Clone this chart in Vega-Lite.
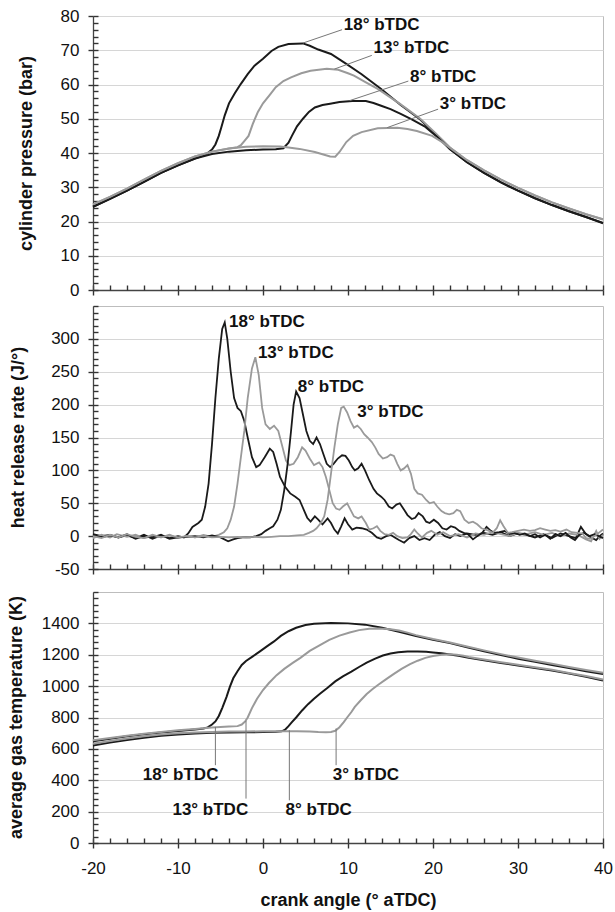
{
  "$schema": "https://vega.github.io/schema/vega-lite/v6.json",
  "padding": {"left": 6, "top": 6, "right": 5, "bottom": 0},
  "spacing": 5,
  "config": {
    "font": "Liberation Sans",
    "view": {"stroke": "#bdbdbd", "strokeWidth": 1},
    "axis": {"labelFont": "Liberation Sans", "titleFont": "Liberation Sans", "labelColor": "#111", "titleColor": "#111", "labelFontSize": 17, "titleFontSize": 18, "titleFontWeight": "bold", "ticks": true, "tickColor": "#333", "tickOpacity": 1, "domainColor": "#444", "gridColor": "#d6d6d6", "tickWidth": 1.4, "domainWidth": 1.3, "labelFlush": false, "labelOverlap": false, "labelExpr": "datum.value + ''"}
  },
  "datasets": {
    "p1": [
      {"s":"18","x":-20,"y":24.3},{"s":"18","x":-18,"y":26.6},{"s":"18","x":-16,"y":29.0},{"s":"18","x":-14,"y":31.6},{"s":"18","x":-12,"y":34.2},{"s":"18","x":-10,"y":36.4},{"s":"18","x":-8,"y":38.4},{"s":"18","x":-7,"y":39.3},{"s":"18","x":-6.5,"y":40.0},{"s":"18","x":-6,"y":41.0},{"s":"18","x":-5.6,"y":42.5},{"s":"18","x":-5.2,"y":45.0},{"s":"18","x":-4.9,"y":47.5},{"s":"18","x":-4.5,"y":51.0},{"s":"18","x":-4.0,"y":54.5},{"s":"18","x":-3.3,"y":57.5},{"s":"18","x":-2.6,"y":60.2},{"s":"18","x":-1.8,"y":63.0},{"s":"18","x":-1.0,"y":65.5},{"s":"18","x":0,"y":67.5},{"s":"18","x":1.0,"y":69.8},{"s":"18","x":1.8,"y":71.0},{"s":"18","x":3.0,"y":71.8},{"s":"18","x":4.7,"y":72.0},{"s":"18","x":5.5,"y":71.3},{"s":"18","x":6.5,"y":70.2},{"s":"18","x":8.0,"y":68.9},{"s":"18","x":9.8,"y":66.0},{"s":"18","x":11.6,"y":63.0},{"s":"18","x":13.9,"y":58.7},{"s":"18","x":16.2,"y":54.0},{"s":"18","x":18.5,"y":49.8},{"s":"18","x":20.3,"y":45.5},{"s":"18","x":22,"y":41.2},{"s":"18","x":24,"y":37.3},{"s":"18","x":26,"y":34.2},{"s":"18","x":28,"y":31.4},{"s":"18","x":30,"y":29.0},{"s":"18","x":32,"y":26.8},{"s":"18","x":34,"y":24.8},{"s":"18","x":36,"y":23.0},{"s":"18","x":38,"y":21.3},{"s":"18","x":40,"y":19.6},
      {"s":"13","x":-20,"y":25.0},{"s":"13","x":-18,"y":27.2},{"s":"13","x":-16,"y":29.6},{"s":"13","x":-14,"y":32.2},{"s":"13","x":-12,"y":34.8},{"s":"13","x":-10,"y":37.0},{"s":"13","x":-8,"y":39.0},{"s":"13","x":-6,"y":40.4},{"s":"13","x":-4,"y":41.3},{"s":"13","x":-3,"y":41.7},{"s":"13","x":-2.6,"y":42.3},{"s":"13","x":-2.2,"y":43.5},{"s":"13","x":-1.7,"y":45.0},{"s":"13","x":-1.2,"y":48.5},{"s":"13","x":-0.6,"y":52.0},{"s":"13","x":0,"y":54.5},{"s":"13","x":0.8,"y":57.0},{"s":"13","x":1.5,"y":59.2},{"s":"13","x":2.4,"y":61.0},{"s":"13","x":3.3,"y":62.1},{"s":"13","x":4.5,"y":63.3},{"s":"13","x":5.6,"y":64.0},{"s":"13","x":7.5,"y":64.6},{"s":"13","x":8.85,"y":64.3},{"s":"13","x":10.0,"y":63.3},{"s":"13","x":10.7,"y":62.6},{"s":"13","x":12.0,"y":60.8},{"s":"13","x":13.5,"y":58.7},{"s":"13","x":16.2,"y":54.2},{"s":"13","x":18.5,"y":50.0},{"s":"13","x":20.3,"y":45.8},{"s":"13","x":22,"y":41.6},{"s":"13","x":24,"y":37.9},{"s":"13","x":26,"y":34.9},{"s":"13","x":28,"y":32.2},{"s":"13","x":30,"y":29.8},{"s":"13","x":32,"y":27.6},{"s":"13","x":34,"y":25.6},{"s":"13","x":36,"y":23.8},{"s":"13","x":38,"y":22.1},{"s":"13","x":40,"y":20.6},
      {"s":"8","x":-20,"y":24.3},{"s":"8","x":-18,"y":26.6},{"s":"8","x":-16,"y":29.0},{"s":"8","x":-14,"y":31.6},{"s":"8","x":-12,"y":34.2},{"s":"8","x":-10,"y":36.4},{"s":"8","x":-8,"y":38.4},{"s":"8","x":-6,"y":39.7},{"s":"8","x":-4,"y":40.4},{"s":"8","x":-2,"y":40.8},{"s":"8","x":0,"y":41.0},{"s":"8","x":1.5,"y":41.1},{"s":"8","x":2.4,"y":41.4},{"s":"8","x":3.0,"y":43.0},{"s":"8","x":3.4,"y":45.0},{"s":"8","x":4.0,"y":47.8},{"s":"8","x":4.7,"y":50.0},{"s":"8","x":5.4,"y":52.0},{"s":"8","x":6.1,"y":53.3},{"s":"8","x":7.0,"y":54.0},{"s":"8","x":7.9,"y":54.4},{"s":"8","x":9.0,"y":54.9},{"s":"8","x":10.5,"y":55.2},{"s":"8","x":12.1,"y":55.2},{"s":"8","x":13.0,"y":54.6},{"s":"8","x":13.9,"y":53.8},{"s":"8","x":15.0,"y":52.8},{"s":"8","x":16.2,"y":51.4},{"s":"8","x":17.5,"y":49.8},{"s":"8","x":19.0,"y":47.8},{"s":"8","x":20.5,"y":44.7},{"s":"8","x":22,"y":41.1},{"s":"8","x":24,"y":37.3},{"s":"8","x":26,"y":34.2},{"s":"8","x":28,"y":31.4},{"s":"8","x":30,"y":29.0},{"s":"8","x":32,"y":26.8},{"s":"8","x":34,"y":24.8},{"s":"8","x":36,"y":23.0},{"s":"8","x":38,"y":21.3},{"s":"8","x":40,"y":19.5},
      {"s":"3","x":-20,"y":25.0},{"s":"3","x":-18,"y":27.2},{"s":"3","x":-16,"y":29.6},{"s":"3","x":-14,"y":32.2},{"s":"3","x":-12,"y":34.8},{"s":"3","x":-10,"y":37.0},{"s":"3","x":-8,"y":39.0},{"s":"3","x":-6,"y":40.4},{"s":"3","x":-4,"y":41.3},{"s":"3","x":-2,"y":41.8},{"s":"3","x":0,"y":42.0},{"s":"3","x":2,"y":41.9},{"s":"3","x":3,"y":41.6},{"s":"3","x":4.3,"y":41.2},{"s":"3","x":6.1,"y":40.3},{"s":"3","x":7.2,"y":39.5},{"s":"3","x":7.9,"y":39.0},{"s":"3","x":8.5,"y":38.9},{"s":"3","x":9.0,"y":40.3},{"s":"3","x":9.8,"y":43.2},{"s":"3","x":10.6,"y":45.0},{"s":"3","x":11.6,"y":46.1},{"s":"3","x":13.5,"y":47.2},{"s":"3","x":15.8,"y":47.4},{"s":"3","x":17.0,"y":47.0},{"s":"3","x":18.1,"y":46.4},{"s":"3","x":19.9,"y":45.0},{"s":"3","x":21.0,"y":43.3},{"s":"3","x":22,"y":41.5},{"s":"3","x":24,"y":37.9},{"s":"3","x":26,"y":34.9},{"s":"3","x":28,"y":32.2},{"s":"3","x":30,"y":29.8},{"s":"3","x":32,"y":27.6},{"s":"3","x":34,"y":25.6},{"s":"3","x":36,"y":23.8},{"s":"3","x":38,"y":22.1},{"s":"3","x":40,"y":20.7}
    ],
    "p2": [
      {"s":"18","x":-20,"y":3},{"s":"18","x":-19,"y":0},{"s":"18","x":-18,"y":2},{"s":"18","x":-17,"y":-2},{"s":"18","x":-16,"y":1},{"s":"18","x":-15,"y":-3},{"s":"18","x":-14,"y":2},{"s":"18","x":-13,"y":-4},{"s":"18","x":-12,"y":1},{"s":"18","x":-11,"y":-3},{"s":"18","x":-10,"y":0},{"s":"18","x":-9.3,"y":-2},{"s":"18","x":-8.8,"y":4},{"s":"18","x":-8.3,"y":14},{"s":"18","x":-7.6,"y":20},{"s":"18","x":-7.2,"y":25},{"s":"18","x":-6.8,"y":45},{"s":"18","x":-6.4,"y":80},{"s":"18","x":-6.0,"y":140},{"s":"18","x":-5.6,"y":210},{"s":"18","x":-5.2,"y":270},{"s":"18","x":-4.8,"y":315},{"s":"18","x":-4.5,"y":325},{"s":"18","x":-4.2,"y":300},{"s":"18","x":-3.8,"y":250},{"s":"18","x":-3.4,"y":210},{"s":"18","x":-3.0,"y":195},{"s":"18","x":-2.6,"y":190},{"s":"18","x":-2.2,"y":175},{"s":"18","x":-1.8,"y":150},{"s":"18","x":-1.3,"y":120},{"s":"18","x":-0.8,"y":105},{"s":"18","x":-0.4,"y":108},{"s":"18","x":0.2,"y":120},{"s":"18","x":0.8,"y":133},{"s":"18","x":1.2,"y":128},{"s":"18","x":1.6,"y":110},{"s":"18","x":2.0,"y":90},{"s":"18","x":2.6,"y":75},{"s":"18","x":3.2,"y":65},{"s":"18","x":3.8,"y":60},{"s":"18","x":4.3,"y":55},{"s":"18","x":4.8,"y":40},{"s":"18","x":5.2,"y":28},{"s":"18","x":5.6,"y":22},{"s":"18","x":6.1,"y":30},{"s":"18","x":6.5,"y":25},{"s":"18","x":7.0,"y":18},{"s":"18","x":7.6,"y":27},{"s":"18","x":8.0,"y":20},{"s":"18","x":8.4,"y":10},{"s":"18","x":8.8,"y":4},{"s":"18","x":9.2,"y":15},{"s":"18","x":9.6,"y":27},{"s":"18","x":10.0,"y":18},{"s":"18","x":10.5,"y":10},{"s":"18","x":11.0,"y":13},{"s":"18","x":11.6,"y":12},{"s":"18","x":12.2,"y":10},{"s":"18","x":12.8,"y":5},{"s":"18","x":13.4,"y":-2},{"s":"18","x":13.9,"y":-4},{"s":"18","x":14.5,"y":0},{"s":"18","x":15.0,"y":2},{"s":"18","x":15.5,"y":-2},{"s":"18","x":16.0,"y":-6},{"s":"18","x":16.6,"y":-10},{"s":"18","x":17.2,"y":-3},{"s":"18","x":17.8,"y":0},{"s":"18","x":18.4,"y":-6},{"s":"18","x":19.0,"y":-3},{"s":"18","x":19.6,"y":-6},{"s":"18","x":20.2,"y":2},{"s":"18","x":20.8,"y":6},{"s":"18","x":21.4,"y":0},{"s":"18","x":22.0,"y":-3},{"s":"18","x":22.6,"y":3},{"s":"18","x":23.2,"y":0},{"s":"18","x":24,"y":4},{"s":"18","x":25,"y":2},{"s":"18","x":26,"y":5},{"s":"18","x":27,"y":2},{"s":"18","x":28,"y":6},{"s":"18","x":29,"y":0},{"s":"18","x":30,"y":4},{"s":"18","x":31,"y":2},{"s":"18","x":32,"y":-2},{"s":"18","x":33,"y":3},{"s":"18","x":34,"y":-3},{"s":"18","x":35,"y":4},{"s":"18","x":36,"y":0},{"s":"18","x":36.8,"y":-3},{"s":"18","x":37.4,"y":14},{"s":"18","x":38,"y":3},{"s":"18","x":38.6,"y":-2},{"s":"18","x":39.2,"y":-6},{"s":"18","x":39.6,"y":0},{"s":"18","x":40,"y":4},
      {"s":"13","x":-20,"y":-3},{"s":"13","x":-19,"y":2},{"s":"13","x":-18,"y":-2},{"s":"13","x":-17.2,"y":3},{"s":"13","x":-16,"y":-1},{"s":"13","x":-15,"y":2},{"s":"13","x":-14,"y":-3},{"s":"13","x":-13,"y":0},{"s":"13","x":-12,"y":-2},{"s":"13","x":-11,"y":2},{"s":"13","x":-10,"y":-3},{"s":"13","x":-9,"y":0},{"s":"13","x":-8,"y":-2},{"s":"13","x":-7,"y":2},{"s":"13","x":-6,"y":-1},{"s":"13","x":-5.2,"y":2},{"s":"13","x":-4.6,"y":6},{"s":"13","x":-4.2,"y":12},{"s":"13","x":-3.8,"y":25},{"s":"13","x":-3.4,"y":45},{"s":"13","x":-3.0,"y":80},{"s":"13","x":-2.6,"y":120},{"s":"13","x":-2.2,"y":160},{"s":"13","x":-1.8,"y":210},{"s":"13","x":-1.3,"y":255},{"s":"13","x":-0.9,"y":272},{"s":"13","x":-0.5,"y":245},{"s":"13","x":-0.1,"y":195},{"s":"13","x":0.3,"y":170},{"s":"13","x":0.8,"y":163},{"s":"13","x":1.3,"y":168},{"s":"13","x":1.8,"y":160},{"s":"13","x":2.2,"y":140},{"s":"13","x":2.7,"y":115},{"s":"13","x":3.1,"y":108},{"s":"13","x":3.6,"y":110},{"s":"13","x":4.1,"y":120},{"s":"13","x":4.6,"y":135},{"s":"13","x":5.0,"y":130},{"s":"13","x":5.5,"y":118},{"s":"13","x":6.0,"y":108},{"s":"13","x":6.6,"y":112},{"s":"13","x":7.0,"y":105},{"s":"13","x":7.4,"y":90},{"s":"13","x":7.8,"y":70},{"s":"13","x":8.2,"y":50},{"s":"13","x":8.6,"y":42},{"s":"13","x":9.0,"y":40},{"s":"13","x":9.4,"y":45},{"s":"13","x":9.9,"y":50},{"s":"13","x":10.3,"y":40},{"s":"13","x":10.7,"y":30},{"s":"13","x":11.2,"y":27},{"s":"13","x":11.6,"y":30},{"s":"13","x":12.1,"y":20},{"s":"13","x":12.5,"y":10},{"s":"13","x":13.0,"y":12},{"s":"13","x":13.4,"y":15},{"s":"13","x":13.8,"y":8},{"s":"13","x":14.3,"y":3},{"s":"13","x":14.8,"y":2},{"s":"13","x":15.3,"y":5},{"s":"13","x":15.8,"y":0},{"s":"13","x":16.4,"y":-3},{"s":"13","x":17.0,"y":-2},{"s":"13","x":17.4,"y":3},{"s":"13","x":17.8,"y":10},{"s":"13","x":18.2,"y":4},{"s":"13","x":18.7,"y":-2},{"s":"13","x":19.3,"y":5},{"s":"13","x":19.8,"y":8},{"s":"13","x":20.5,"y":2},{"s":"13","x":21.2,"y":6},{"s":"13","x":22,"y":0},{"s":"13","x":23,"y":3},{"s":"13","x":24,"y":-2},{"s":"13","x":25,"y":4},{"s":"13","x":26,"y":2},{"s":"13","x":27,"y":6},{"s":"13","x":28,"y":3},{"s":"13","x":29,"y":0},{"s":"13","x":30,"y":5},{"s":"13","x":31,"y":3},{"s":"13","x":32,"y":6},{"s":"13","x":33,"y":2},{"s":"13","x":34,"y":5},{"s":"13","x":35,"y":0},{"s":"13","x":36,"y":4},{"s":"13","x":37,"y":2},{"s":"13","x":38,"y":-5},{"s":"13","x":38.6,"y":-8},{"s":"13","x":39.2,"y":8},{"s":"13","x":39.6,"y":-4},{"s":"13","x":40,"y":2},
      {"s":"8","x":-20,"y":2},{"s":"8","x":-19,"y":-2},{"s":"8","x":-18,"y":1},{"s":"8","x":-17,"y":-2},{"s":"8","x":-16,"y":3},{"s":"8","x":-15,"y":-4},{"s":"8","x":-14,"y":0},{"s":"8","x":-13,"y":-2},{"s":"8","x":-12,"y":2},{"s":"8","x":-11,"y":-4},{"s":"8","x":-10,"y":-2},{"s":"8","x":-9,"y":-1},{"s":"8","x":-8,"y":0},{"s":"8","x":-7,"y":-2},{"s":"8","x":-6,"y":1},{"s":"8","x":-5,"y":-2},{"s":"8","x":-4.1,"y":-8},{"s":"8","x":-3.5,"y":-5},{"s":"8","x":-3,"y":-3},{"s":"8","x":-2.4,"y":-2},{"s":"8","x":-1.5,"y":-2},{"s":"8","x":-0.8,"y":0},{"s":"8","x":-0.2,"y":3},{"s":"8","x":0.3,"y":8},{"s":"8","x":0.8,"y":12},{"s":"8","x":1.2,"y":15},{"s":"8","x":1.7,"y":25},{"s":"8","x":2.1,"y":40},{"s":"8","x":2.5,"y":70},{"s":"8","x":2.9,"y":110},{"s":"8","x":3.3,"y":160},{"s":"8","x":3.6,"y":200},{"s":"8","x":3.9,"y":220},{"s":"8","x":4.3,"y":210},{"s":"8","x":4.7,"y":185},{"s":"8","x":5.1,"y":160},{"s":"8","x":5.5,"y":145},{"s":"8","x":5.9,"y":140},{"s":"8","x":6.3,"y":150},{"s":"8","x":6.7,"y":140},{"s":"8","x":7.1,"y":125},{"s":"8","x":7.5,"y":110},{"s":"8","x":7.9,"y":105},{"s":"8","x":8.3,"y":110},{"s":"8","x":8.8,"y":118},{"s":"8","x":9.3,"y":123},{"s":"8","x":9.7,"y":122},{"s":"8","x":10.1,"y":115},{"s":"8","x":10.5,"y":105},{"s":"8","x":10.8,"y":100},{"s":"8","x":11.2,"y":103},{"s":"8","x":11.6,"y":110},{"s":"8","x":12.0,"y":100},{"s":"8","x":12.5,"y":85},{"s":"8","x":13.0,"y":72},{"s":"8","x":13.4,"y":65},{"s":"8","x":13.9,"y":60},{"s":"8","x":14.3,"y":55},{"s":"8","x":14.8,"y":45},{"s":"8","x":15.2,"y":42},{"s":"8","x":15.7,"y":48},{"s":"8","x":16.1,"y":50},{"s":"8","x":16.6,"y":40},{"s":"8","x":17.0,"y":32},{"s":"8","x":17.5,"y":26},{"s":"8","x":17.9,"y":28},{"s":"8","x":18.3,"y":35},{"s":"8","x":18.8,"y":30},{"s":"8","x":19.2,"y":22},{"s":"8","x":19.6,"y":20},{"s":"8","x":20.1,"y":25},{"s":"8","x":20.6,"y":20},{"s":"8","x":21.1,"y":12},{"s":"8","x":21.6,"y":10},{"s":"8","x":22.1,"y":15},{"s":"8","x":22.6,"y":13},{"s":"8","x":23.1,"y":8},{"s":"8","x":23.6,"y":5},{"s":"8","x":24.1,"y":3},{"s":"8","x":24.7,"y":-5},{"s":"8","x":25.2,"y":0},{"s":"8","x":25.8,"y":5},{"s":"8","x":26.3,"y":14},{"s":"8","x":26.8,"y":8},{"s":"8","x":27.2,"y":5},{"s":"8","x":27.8,"y":6},{"s":"8","x":28.4,"y":8},{"s":"8","x":29,"y":3},{"s":"8","x":29.6,"y":5},{"s":"8","x":30.2,"y":2},{"s":"8","x":30.8,"y":4},{"s":"8","x":31.4,"y":0},{"s":"8","x":32,"y":3},{"s":"8","x":32.6,"y":-2},{"s":"8","x":33.2,"y":2},{"s":"8","x":33.8,"y":-4},{"s":"8","x":34.4,"y":3},{"s":"8","x":35,"y":0},{"s":"8","x":35.6,"y":5},{"s":"8","x":36.2,"y":-2},{"s":"8","x":36.7,"y":-6},{"s":"8","x":37.2,"y":2},{"s":"8","x":37.8,"y":5},{"s":"8","x":38.4,"y":0},{"s":"8","x":39,"y":3},{"s":"8","x":40,"y":-3},
      {"s":"3","x":-20,"y":0},{"s":"3","x":-19,"y":-3},{"s":"3","x":-18,"y":2},{"s":"3","x":-17,"y":-2},{"s":"3","x":-16,"y":3},{"s":"3","x":-15,"y":-1},{"s":"3","x":-14,"y":-3},{"s":"3","x":-13,"y":2},{"s":"3","x":-12,"y":-2},{"s":"3","x":-11,"y":1},{"s":"3","x":-10,"y":-2},{"s":"3","x":-9,"y":0},{"s":"3","x":-8,"y":-2},{"s":"3","x":-7,"y":0},{"s":"3","x":-6,"y":-2},{"s":"3","x":-5,"y":-1},{"s":"3","x":-4,"y":-2},{"s":"3","x":-3,"y":-1},{"s":"3","x":-2,"y":-2},{"s":"3","x":-1,"y":-1},{"s":"3","x":0,"y":-2},{"s":"3","x":1,"y":-1},{"s":"3","x":2,"y":0},{"s":"3","x":3,"y":0},{"s":"3","x":4,"y":1},{"s":"3","x":4.8,"y":2},{"s":"3","x":5.4,"y":5},{"s":"3","x":5.9,"y":8},{"s":"3","x":6.3,"y":12},{"s":"3","x":6.8,"y":20},{"s":"3","x":7.2,"y":30},{"s":"3","x":7.6,"y":55},{"s":"3","x":8.0,"y":95},{"s":"3","x":8.4,"y":135},{"s":"3","x":8.8,"y":170},{"s":"3","x":9.2,"y":195},{"s":"3","x":9.5,"y":197},{"s":"3","x":9.9,"y":188},{"s":"3","x":10.3,"y":175},{"s":"3","x":10.7,"y":165},{"s":"3","x":11.1,"y":168},{"s":"3","x":11.5,"y":163},{"s":"3","x":11.9,"y":155},{"s":"3","x":12.3,"y":150},{"s":"3","x":12.8,"y":143},{"s":"3","x":13.2,"y":135},{"s":"3","x":13.6,"y":125},{"s":"3","x":14.1,"y":118},{"s":"3","x":14.6,"y":120},{"s":"3","x":15.0,"y":124},{"s":"3","x":15.4,"y":122},{"s":"3","x":15.8,"y":110},{"s":"3","x":16.2,"y":100},{"s":"3","x":16.6,"y":103},{"s":"3","x":17.0,"y":108},{"s":"3","x":17.4,"y":95},{"s":"3","x":17.8,"y":72},{"s":"3","x":18.2,"y":65},{"s":"3","x":18.7,"y":63},{"s":"3","x":19.2,"y":55},{"s":"3","x":19.6,"y":50},{"s":"3","x":20.1,"y":52},{"s":"3","x":20.5,"y":45},{"s":"3","x":21.0,"y":38},{"s":"3","x":21.4,"y":35},{"s":"3","x":21.9,"y":33},{"s":"3","x":22.4,"y":35},{"s":"3","x":22.8,"y":40},{"s":"3","x":23.2,"y":38},{"s":"3","x":23.7,"y":25},{"s":"3","x":24.2,"y":20},{"s":"3","x":24.7,"y":22},{"s":"3","x":25.2,"y":18},{"s":"3","x":25.7,"y":12},{"s":"3","x":26.2,"y":10},{"s":"3","x":26.6,"y":8},{"s":"3","x":27.0,"y":5},{"s":"3","x":27.5,"y":12},{"s":"3","x":27.9,"y":24},{"s":"3","x":28.3,"y":15},{"s":"3","x":28.8,"y":5},{"s":"3","x":29.3,"y":6},{"s":"3","x":30,"y":8},{"s":"3","x":30.7,"y":10},{"s":"3","x":31.4,"y":8},{"s":"3","x":32,"y":9},{"s":"3","x":32.6,"y":12},{"s":"3","x":33.2,"y":10},{"s":"3","x":33.8,"y":8},{"s":"3","x":34.4,"y":9},{"s":"3","x":35,"y":7},{"s":"3","x":35.7,"y":10},{"s":"3","x":36.3,"y":6},{"s":"3","x":37,"y":5},{"s":"3","x":37.6,"y":4},{"s":"3","x":38,"y":-3},{"s":"3","x":38.5,"y":-4},{"s":"3","x":39,"y":0},{"s":"3","x":39.5,"y":5},{"s":"3","x":40,"y":10}
    ],
    "p3": [
      {"s":"18","x":-20,"y":648},{"s":"18","x":-18,"y":664},{"s":"18","x":-16,"y":680},{"s":"18","x":-14,"y":693},{"s":"18","x":-12,"y":704},{"s":"18","x":-10,"y":714},{"s":"18","x":-8,"y":724},{"s":"18","x":-7,"y":730},{"s":"18","x":-6.5,"y":737},{"s":"18","x":-6.0,"y":755},{"s":"18","x":-5.6,"y":775},{"s":"18","x":-5.2,"y":810},{"s":"18","x":-4.8,"y":860},{"s":"18","x":-4.3,"y":930},{"s":"18","x":-3.9,"y":995},{"s":"18","x":-3.5,"y":1050},{"s":"18","x":-3.0,"y":1095},{"s":"18","x":-2.5,"y":1135},{"s":"18","x":-2.0,"y":1160},{"s":"18","x":-1.2,"y":1190},{"s":"18","x":-0.4,"y":1220},{"s":"18","x":0.5,"y":1255},{"s":"18","x":1.3,"y":1285},{"s":"18","x":2.1,"y":1320},{"s":"18","x":3.0,"y":1350},{"s":"18","x":3.9,"y":1372},{"s":"18","x":5.0,"y":1390},{"s":"18","x":6.0,"y":1398},{"s":"18","x":8.0,"y":1403},{"s":"18","x":10.0,"y":1400},{"s":"18","x":12.0,"y":1392},{"s":"18","x":14.0,"y":1372},{"s":"18","x":16.0,"y":1347},{"s":"18","x":18.0,"y":1320},{"s":"18","x":20.0,"y":1296},{"s":"18","x":22.0,"y":1274},{"s":"18","x":24.0,"y":1248},{"s":"18","x":26.0,"y":1222},{"s":"18","x":28.0,"y":1198},{"s":"18","x":30.0,"y":1175},{"s":"18","x":32.0,"y":1155},{"s":"18","x":34.0,"y":1135},{"s":"18","x":36.0,"y":1115},{"s":"18","x":38.0,"y":1095},{"s":"18","x":40.0,"y":1078},
      {"s":"13","x":-20,"y":655},{"s":"13","x":-18,"y":670},{"s":"13","x":-16,"y":684},{"s":"13","x":-14,"y":697},{"s":"13","x":-12,"y":708},{"s":"13","x":-10,"y":718},{"s":"13","x":-8,"y":727},{"s":"13","x":-6,"y":737},{"s":"13","x":-5,"y":740},{"s":"13","x":-4,"y":742},{"s":"13","x":-3,"y":745},{"s":"13","x":-2.5,"y":755},{"s":"13","x":-2.1,"y":775},{"s":"13","x":-1.8,"y":800},{"s":"13","x":-1.3,"y":860},{"s":"13","x":-0.7,"y":920},{"s":"13","x":0,"y":975},{"s":"13","x":0.7,"y":1020},{"s":"13","x":1.6,"y":1070},{"s":"13","x":2.5,"y":1110},{"s":"13","x":3.5,"y":1148},{"s":"13","x":4.4,"y":1180},{"s":"13","x":5.5,"y":1225},{"s":"13","x":6.7,"y":1262},{"s":"13","x":7.8,"y":1295},{"s":"13","x":9.0,"y":1322},{"s":"13","x":10.2,"y":1342},{"s":"13","x":11.3,"y":1357},{"s":"13","x":12.5,"y":1365},{"s":"13","x":13.6,"y":1367},{"s":"13","x":15.0,"y":1362},{"s":"13","x":16.0,"y":1354},{"s":"13","x":17.0,"y":1341},{"s":"13","x":18.0,"y":1325},{"s":"13","x":20,"y":1300},{"s":"13","x":22,"y":1278},{"s":"13","x":24,"y":1253},{"s":"13","x":26,"y":1228},{"s":"13","x":28,"y":1204},{"s":"13","x":30,"y":1182},{"s":"13","x":32,"y":1162},{"s":"13","x":34,"y":1142},{"s":"13","x":36,"y":1122},{"s":"13","x":38,"y":1103},{"s":"13","x":40,"y":1085},
      {"s":"8","x":-20,"y":622},{"s":"8","x":-18,"y":640},{"s":"8","x":-16,"y":657},{"s":"8","x":-14,"y":671},{"s":"8","x":-12,"y":683},{"s":"8","x":-10,"y":692},{"s":"8","x":-8,"y":698},{"s":"8","x":-6,"y":702},{"s":"8","x":-4,"y":705},{"s":"8","x":-2,"y":706},{"s":"8","x":0,"y":707},{"s":"8","x":1.5,"y":709},{"s":"8","x":2.2,"y":712},{"s":"8","x":2.6,"y":722},{"s":"8","x":3.0,"y":745},{"s":"8","x":3.4,"y":770},{"s":"8","x":3.9,"y":800},{"s":"8","x":4.6,"y":845},{"s":"8","x":5.3,"y":885},{"s":"8","x":6.0,"y":920},{"s":"8","x":6.7,"y":952},{"s":"8","x":7.6,"y":990},{"s":"8","x":8.5,"y":1030},{"s":"8","x":9.4,"y":1062},{"s":"8","x":10.4,"y":1092},{"s":"8","x":11.3,"y":1122},{"s":"8","x":12.2,"y":1150},{"s":"8","x":13.2,"y":1175},{"s":"8","x":14.1,"y":1195},{"s":"8","x":15.0,"y":1208},{"s":"8","x":15.9,"y":1216},{"s":"8","x":17.0,"y":1220},{"s":"8","x":18.2,"y":1221},{"s":"8","x":19.2,"y":1219},{"s":"8","x":20.0,"y":1215},{"s":"8","x":21.0,"y":1210},{"s":"8","x":22.0,"y":1202},{"s":"8","x":23,"y":1193},{"s":"8","x":24.2,"y":1180},{"s":"8","x":26,"y":1165},{"s":"8","x":28,"y":1148},{"s":"8","x":30,"y":1132},{"s":"8","x":32,"y":1116},{"s":"8","x":34,"y":1100},{"s":"8","x":36,"y":1080},{"s":"8","x":38,"y":1060},{"s":"8","x":40,"y":1035},
      {"s":"3","x":-20,"y":632},{"s":"3","x":-18,"y":650},{"s":"3","x":-16,"y":666},{"s":"3","x":-14,"y":680},{"s":"3","x":-12,"y":692},{"s":"3","x":-10,"y":700},{"s":"3","x":-8,"y":705},{"s":"3","x":-6,"y":708},{"s":"3","x":-4,"y":710},{"s":"3","x":-2,"y":711},{"s":"3","x":0,"y":712},{"s":"3","x":2,"y":712},{"s":"3","x":4,"y":712},{"s":"3","x":5.5,"y":710},{"s":"3","x":6.5,"y":707},{"s":"3","x":7.4,"y":706},{"s":"3","x":8.0,"y":708},{"s":"3","x":8.5,"y":715},{"s":"3","x":9.0,"y":738},{"s":"3","x":9.5,"y":770},{"s":"3","x":9.9,"y":800},{"s":"3","x":10.4,"y":835},{"s":"3","x":10.8,"y":868},{"s":"3","x":11.5,"y":910},{"s":"3","x":12.2,"y":950},{"s":"3","x":12.9,"y":982},{"s":"3","x":13.6,"y":1010},{"s":"3","x":14.5,"y":1045},{"s":"3","x":15.4,"y":1078},{"s":"3","x":16.3,"y":1110},{"s":"3","x":17.3,"y":1140},{"s":"3","x":18.2,"y":1162},{"s":"3","x":19.1,"y":1180},{"s":"3","x":20.0,"y":1192},{"s":"3","x":21.0,"y":1200},{"s":"3","x":22.0,"y":1203},{"s":"3","x":22.8,"y":1200},{"s":"3","x":23.6,"y":1193},{"s":"3","x":24.2,"y":1186},{"s":"3","x":26,"y":1170},{"s":"3","x":28,"y":1152},{"s":"3","x":30,"y":1136},{"s":"3","x":32,"y":1120},{"s":"3","x":34,"y":1104},{"s":"3","x":36,"y":1084},{"s":"3","x":38,"y":1064},{"s":"3","x":40,"y":1042}
    ],
    "t1": [{"label":"18° bTDC","x":9.5,"y":77.3},{"label":"13° bTDC","x":13.0,"y":70.8},{"label":"8° bTDC","x":17.3,"y":62.3},{"label":"3° bTDC","x":20.8,"y":54.3}],
    "r1": [{"x":4.7,"y":72.1,"x2":9.3,"y2":76.0},{"x":8.4,"y":64.5,"x2":12.8,"y2":68.5},{"x":10.2,"y":55.3,"x2":17.1,"y2":61.0},{"x":14.6,"y":47.4,"x2":20.6,"y2":52.8}],
    "t2": [{"label":"18° bTDC","x":-4.0,"y":325},{"label":"13° bTDC","x":-0.6,"y":278},{"label":"8° bTDC","x":4.1,"y":227},{"label":"3° bTDC","x":11.1,"y":189}],
    "t3": [{"label":"18° bTDC","x":-9.7,"y":432},{"label":"13° bTDC","x":-6.2,"y":213},{"label":"8° bTDC","x":6.55,"y":213},{"label":"3° bTDC","x":12.1,"y":432}],
    "r3": [{"x":-5.6,"y":740,"x2":-5.6,"y2":496},{"x":-2.0,"y":779,"x2":-2.0,"y2":283},{"x":3.1,"y":719,"x2":3.1,"y2":272},{"x":8.6,"y":730,"x2":8.6,"y2":496}]
  },
  "vconcat": [
    {
      "width": 510, "height": 274,
      "resolve": {"axis": {"x": "independent", "y": "independent"}},
      "layer": [
        {"data": {"name": "p1"}, "mark": {"type": "line", "strokeWidth": 2},
         "encoding": {
           "x": {"field": "x", "type": "quantitative", "scale": {"domain": [-20, 40], "nice": false, "zero": false}, "axis": {"orient": "bottom", "values": [-20,-10,0,10,20,30,40], "labels": false, "title": null, "tickSize": 5, "grid": false}},
           "y": {"field": "y", "type": "quantitative", "scale": {"domain": [0, 80], "nice": false, "zero": false}, "axis": {"orient": "left", "values": [0,10,20,30,40,50,60,70,80], "tickSize": 5, "labelPadding": 9, "grid": true, "title": "cylinder pressure (bar)", "titleAngle": -90, "titleAlign": "center", "titleBaseline": "middle", "titleX": -67, "titleY": 137}},
           "color": {"field": "s", "type": "nominal", "scale": {"domain": ["18","13","8","3"], "range": ["#1a1a1a","#9a9a9a","#1a1a1a","#9a9a9a"]}, "legend": null}
         }},
        {"data": {"name": "r1"}, "mark": {"type": "rule", "color": "#777", "strokeWidth": 1},
         "encoding": {
           "x": {"field": "x", "type": "quantitative", "scale": {"domain": [-20, 40], "nice": false, "zero": false}, "axis": null},
           "y": {"field": "y", "type": "quantitative", "scale": {"domain": [0, 80], "nice": false, "zero": false}, "axis": null},
           "x2": {"field": "x2"}, "y2": {"field": "y2"}
         }},
        {"data": {"name": "t1"}, "mark": {"type": "text", "align": "left", "baseline": "middle", "fontSize": 17, "fontWeight": "bold", "color": "#111", "font": "Liberation Sans"},
         "encoding": {
           "x": {"field": "x", "type": "quantitative", "scale": {"domain": [-20, 40], "nice": false, "zero": false}, "axis": {"orient": "bottom", "values": [-20,-18,-16,-14,-12,-10,-8,-6,-4,-2,0,2,4,6,8,10,12,14,16,18,20,22,24,26,28,30,32,34,36,38,40], "labels": false, "domain": false, "grid": false, "title": null, "tickSize": -5}},
           "y": {"field": "y", "type": "quantitative", "scale": {"domain": [0, 80], "nice": false, "zero": false}, "axis": {"orient": "left", "values": [0,2,4,6,8,10,12,14,16,18,20,22,24,26,28,30,32,34,36,38,40,42,44,46,48,50,52,54,56,58,60,62,64,66,68,70,72,74,76,78,80], "labels": false, "domain": false, "grid": false, "title": null, "tickSize": -5}},
           "text": {"field": "label"}
         }}
      ]
    },
    {
      "width": 510, "height": 263,
      "resolve": {"axis": {"x": "independent", "y": "independent"}},
      "layer": [
        {"data": {"name": "p2"}, "mark": {"type": "line", "strokeWidth": 1.8},
         "encoding": {
           "x": {"field": "x", "type": "quantitative", "scale": {"domain": [-20, 40], "nice": false, "zero": false}, "axis": {"orient": "bottom", "values": [-20,-10,0,10,20,30,40], "labels": false, "title": null, "tickSize": 5, "grid": false, "minExtent": 15}},
           "y": {"field": "y", "type": "quantitative", "scale": {"domain": [-50, 350], "nice": false, "zero": false}, "axis": {"orient": "left", "values": [-50,0,50,100,150,200,250,300], "tickSize": 5, "labelPadding": 9, "grid": true, "title": "heat release rate (J/°)", "titleAngle": -90, "titleAlign": "center", "titleBaseline": "middle", "titleX": -75, "titleY": 131}},
           "color": {"field": "s", "type": "nominal", "scale": {"domain": ["18","13","8","3"], "range": ["#1a1a1a","#9a9a9a","#1a1a1a","#9a9a9a"]}, "legend": null}
         }},
        {"data": {"name": "t2"}, "mark": {"type": "text", "align": "left", "baseline": "middle", "fontSize": 17, "fontWeight": "bold", "color": "#111", "font": "Liberation Sans"},
         "encoding": {
           "x": {"field": "x", "type": "quantitative", "scale": {"domain": [-20, 40], "nice": false, "zero": false}, "axis": {"orient": "bottom", "values": [-20,-18,-16,-14,-12,-10,-8,-6,-4,-2,0,2,4,6,8,10,12,14,16,18,20,22,24,26,28,30,32,34,36,38,40], "labels": false, "domain": false, "grid": false, "title": null, "tickSize": -5}},
           "y": {"field": "y", "type": "quantitative", "scale": {"domain": [-50, 350], "nice": false, "zero": false}, "axis": {"orient": "left", "values": [-50,-40,-30,-20,-10,0,10,20,30,40,50,60,70,80,90,100,110,120,130,140,150,160,170,180,190,200,210,220,230,240,250,260,270,280,290,300,310,320,330,340,350], "labels": false, "domain": false, "grid": false, "title": null, "tickSize": -5}},
           "text": {"field": "label"}
         }}
      ]
    },
    {
      "width": 510, "height": 251,
      "resolve": {"axis": {"x": "independent", "y": "independent"}},
      "layer": [
        {"data": {"name": "p3"}, "mark": {"type": "line", "strokeWidth": 2},
         "encoding": {
           "x": {"field": "x", "type": "quantitative", "scale": {"domain": [-20, 40], "nice": false, "zero": false}, "axis": {"orient": "bottom", "values": [-20,-10,0,10,20,30,40], "labels": true, "labelPadding": 12, "title": "crank angle (° aTDC)", "titlePadding": 15, "tickSize": 5, "grid": false}},
           "y": {"field": "y", "type": "quantitative", "scale": {"domain": [0, 1600], "nice": false, "zero": false}, "axis": {"orient": "left", "values": [0,200,400,600,800,1000,1200,1400], "tickSize": 5, "labelPadding": 9, "grid": true, "title": "average gas temperature (K)", "titleAngle": -90, "titleAlign": "center", "titleBaseline": "middle", "titleX": -77, "titleY": 125}},
           "color": {"field": "s", "type": "nominal", "scale": {"domain": ["18","13","8","3"], "range": ["#1a1a1a","#9a9a9a","#1a1a1a","#9a9a9a"]}, "legend": null}
         }},
        {"data": {"name": "r3"}, "mark": {"type": "rule", "color": "#777", "strokeWidth": 1},
         "encoding": {
           "x": {"field": "x", "type": "quantitative", "scale": {"domain": [-20, 40], "nice": false, "zero": false}, "axis": null},
           "y": {"field": "y", "type": "quantitative", "scale": {"domain": [0, 1600], "nice": false, "zero": false}, "axis": null},
           "x2": {"field": "x2"}, "y2": {"field": "y2"}
         }},
        {"data": {"name": "t3"}, "mark": {"type": "text", "align": "center", "baseline": "middle", "fontSize": 17, "fontWeight": "bold", "color": "#111", "font": "Liberation Sans"},
         "encoding": {
           "x": {"field": "x", "type": "quantitative", "scale": {"domain": [-20, 40], "nice": false, "zero": false}, "axis": {"orient": "bottom", "values": [-20,-18,-16,-14,-12,-10,-8,-6,-4,-2,0,2,4,6,8,10,12,14,16,18,20,22,24,26,28,30,32,34,36,38,40], "labels": false, "domain": false, "grid": false, "title": null, "tickSize": -5}},
           "y": {"field": "y", "type": "quantitative", "scale": {"domain": [0, 1600], "nice": false, "zero": false}, "axis": {"orient": "left", "values": [0,40,80,120,160,200,240,280,320,360,400,440,480,520,560,600,640,680,720,760,800,840,880,920,960,1000,1040,1080,1120,1160,1200,1240,1280,1320,1360,1400,1440,1480,1520,1560,1600], "labels": false, "domain": false, "grid": false, "title": null, "tickSize": -5}},
           "text": {"field": "label"}
         }}
      ]
    }
  ]
}
